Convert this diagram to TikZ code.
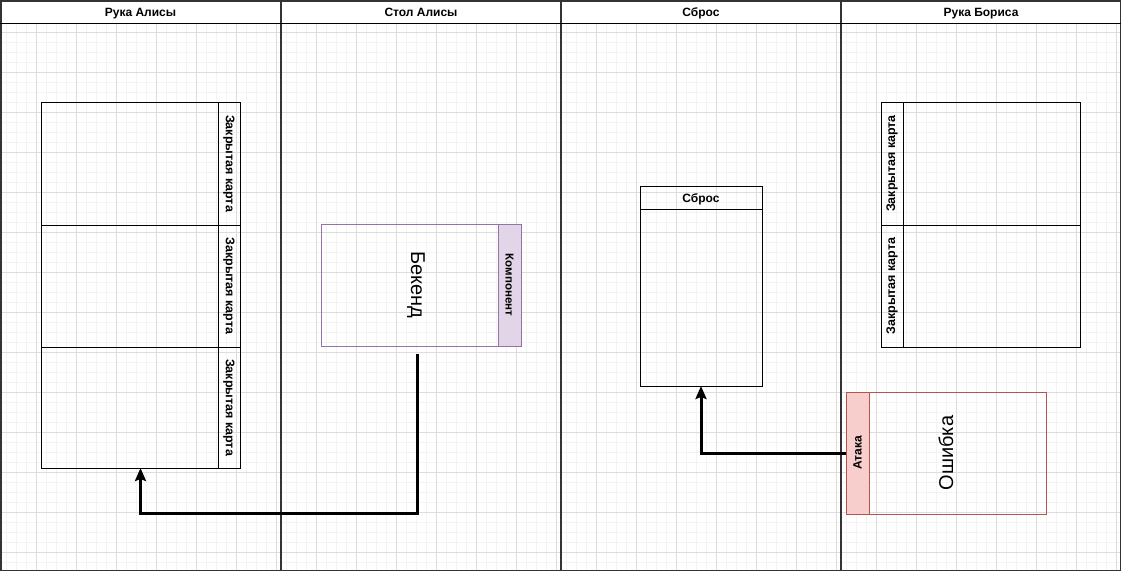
\documentclass[tikz,border=0pt]{standalone}
\usepackage{fontspec}
\setmainfont{Liberation Sans}
\usetikzlibrary{arrows.meta}
\definecolor{gridmin}{HTML}{F3F3F3}
\definecolor{gridmaj}{HTML}{DDDDDD}
\definecolor{purpfill}{HTML}{E1D5E7}
\definecolor{purpline}{HTML}{9673A6}
\definecolor{redfill}{HTML}{F8CECC}
\definecolor{redline}{HTML}{B85450}
\definecolor{lanegray}{HTML}{333333}
\begin{document}
\begin{tikzpicture}[x=1pt,y=-1pt,
  lanehead/.style={font=\bfseries\fontsize{12}{14}\selectfont, inner sep=0pt, anchor=base},
  cardbox/.style={draw=black, line width=1pt, anchor=north west, inner sep=0pt, outer sep=0pt},
  stripe/.style={draw=black, line width=1pt, inner sep=0pt, outer sep=0pt, font=\bfseries\fontsize{12.5}{14}\selectfont},
  bigtext/.style={font=\fontsize{20}{24}\selectfont, inner sep=0pt},
  flow/.style={line width=3pt, draw=black, -{Stealth[length=13pt,width=11pt,inset=2pt]}}
]
\useasboundingbox (0,0) rectangle (1121,571);
\fill[white] (0,0) rectangle (1121,571);
% grid
\foreach \x in {6,16,...,1116} \draw[gridmin, line width=0.6pt] (\x,23) -- (\x,570);
\foreach \y in {32,42,...,562} \draw[gridmin, line width=0.6pt] (0,\y) -- (1120,\y);
\foreach \x in {36,76,...,1116} \draw[gridmaj, line width=0.6pt] (\x,23) -- (\x,570);
\foreach \y in {32,72,...,552} \draw[gridmaj, line width=0.6pt] (0,\y) -- (1120,\y);
% lanes
\draw[lanegray, line width=1.5pt] (0.75,0.75) rectangle (1120.25,570.25);
\foreach \x in {281,561,841} \draw[lanegray, line width=1.5pt] (\x,0) -- (\x,571);
\draw[black, line width=1pt] (0,23) -- (1121,23);
\node[lanehead] (h1) at (140.5,16.5) {Рука Алисы};
\node[lanehead] (h2) at (421,16.5) {Стол Алисы};
\node[lanehead] (h3) at (701,16.5) {Сброс};
\node[lanehead] (h4) at (981,16.5) {Рука Бориса};

% Alice hand
\node[cardbox, minimum width=199pt, minimum height=123pt] (a1) at (41,102) {};
\node[cardbox, minimum width=199pt, minimum height=122pt] (a2) at (41,225) {};
\node[cardbox, minimum width=199pt, minimum height=121pt] (a3) at (41,347) {};
\node[stripe, rotate=-90, minimum width=123pt, minimum height=22pt] (a1s) at (229,163.5) {Закрытая карта};
\node[stripe, rotate=-90, minimum width=122pt, minimum height=22pt] (a2s) at (229,286) {Закрытая карта};
\node[stripe, rotate=-90, minimum width=121pt, minimum height=22pt] (a3s) at (229,407.5) {Закрытая карта};

% Backend
\node[draw=purpline, line width=1pt, anchor=north west, inner sep=0pt, minimum width=200pt, minimum height=122pt] (be) at (321,224) {};
\node[stripe, draw=purpline, fill=purpfill, rotate=-90, minimum width=122pt, minimum height=23pt, font=\bfseries\fontsize{11.5}{13}\selectfont] (bes) at (509.5,285) {Компонент};
\node[bigtext, rotate=-90] (bet) at (416,285) {Бекенд};

% Discard
\node[cardbox, minimum width=122pt, minimum height=200pt] (disc) at (640,186) {};
\draw[black, line width=1pt] (640,209) -- (762,209);
\node[lanehead] (disch) at (701,202) {Сброс};

% Bob hand
\node[cardbox, minimum width=199pt, minimum height=123pt] (b1) at (881,102) {};
\node[cardbox, minimum width=199pt, minimum height=122pt] (b2) at (881,225) {};
\node[stripe, rotate=90, minimum width=123pt, minimum height=22pt] (b1s) at (892,163.5) {Закрытая карта};
\node[stripe, rotate=90, minimum width=122pt, minimum height=22pt] (b2s) at (892,286) {Закрытая карта};

% Error
\node[draw=redline, line width=1pt, anchor=north west, inner sep=0pt, minimum width=200pt, minimum height=122pt] (err) at (846,392) {};
\node[stripe, draw=redline, fill=redfill, rotate=90, minimum width=122pt, minimum height=23pt, font=\bfseries\fontsize{12}{14}\selectfont] (errs) at (857.5,453) {Атака};
\node[bigtext, rotate=90] (errt) at (946,453) {Ошибка};

% connectors
\coordinate (bstart) at (417,354);
\coordinate (bturn) at (417,513);
\draw[flow] (bstart) -- (bturn) -| (a3.south);
\draw[flow] (err.west) -| (disc.south);
\end{tikzpicture}
\end{document}
